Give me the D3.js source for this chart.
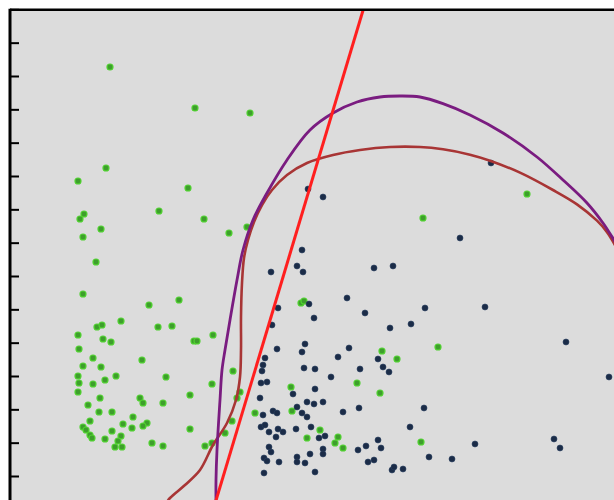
<!DOCTYPE html>
<html>
<head>
<meta charset="utf-8">
<script src="https://cdn.jsdelivr.net/npm/d3@7"></script>
<style>
  html, body { margin: 0; padding: 0; background: #ffffff; }
  svg { display: block; }
</style>
</head>
<body>
<svg id="chart" width="614" height="500"></svg>
<script>
// Class A samples (green), [feature1, feature2]
const classA = [
  [3.00,12.27],[5.55,11.04],[7.20,10.89],[2.88,9.24],[2.04,8.85],[5.34,8.64],[4.47,7.95],
  [2.22,7.86],[2.10,7.71],[5.82,7.71],[2.73,7.41],[2.19,7.17],[6.57,7.29],[7.11,7.47],
  [2.58,6.42],[2.19,5.46],[4.17,5.13],[5.07,5.28],[3.33,4.65],[2.61,4.47],[2.76,4.53],
  [4.44,4.47],[4.86,4.50],[2.04,4.23],[2.79,4.11],[3.03,4.02],[5.52,4.05],[5.61,4.05],
  [6.09,4.23],[2.07,3.81],[3.96,3.48],[2.49,3.54],[2.19,3.30],[2.73,3.27],[3.18,3.00],
  [2.04,3.00],[2.07,2.79],[2.49,2.76],[2.85,2.88],[4.68,2.97],[6.06,2.76],[6.69,3.15],
  [5.40,2.43],[2.04,2.52],[2.70,2.34],[3.90,2.34],[3.99,2.19],[4.59,2.19],[2.34,2.13],
  [2.67,1.92],[3.06,1.92],[3.69,1.77],[6.90,2.52],[6.81,2.34],[5.40,1.41],[2.40,1.65],
  [2.19,1.47],[2.28,1.38],[3.39,1.56],[3.66,1.44],[4.11,1.59],[3.99,1.50],[3.06,1.35],
  [2.40,1.23],[2.46,1.14],[3.33,1.20],[2.85,1.11],[3.24,1.05],[3.15,0.87],[3.36,0.87],
  [4.26,0.99],[4.59,0.90],[6.66,1.65],[6.45,1.29],[5.85,0.90],[6.06,0.99],
  [8.73,5.19],[8.82,5.25],[8.43,2.67],[7.35,1.89],[8.46,1.95],[8.91,1.14],[9.30,1.38],
  [9.75,0.99],[9.84,1.17],[9.99,0.84],[11.16,3.75],[11.61,3.51],[10.41,2.79],[11.10,2.49],
  [12.84,3.87],[12.33,1.02],[15.51,8.46],[12.39,7.74]
];

// Class B samples (navy), [feature1, feature2]
const classB = [
  [8.94,8.61],[9.39,8.37],[14.43,9.39],[13.50,7.14],[8.76,6.78],[7.83,6.12],[8.61,6.30],
  [8.79,6.12],[10.92,6.24],[11.49,6.30],[8.04,5.04],[8.97,5.16],[9.12,4.74],[7.86,4.53],
  [10.11,5.34],[10.65,4.89],[11.40,4.44],[12.03,4.56],[12.45,5.04],[14.25,5.07],[16.68,4.02],
  [17.97,2.97],[8.01,3.81],[8.85,3.96],[8.76,3.72],[10.17,3.84],[9.84,3.57],[7.65,3.54],
  [7.59,3.33],[7.56,3.15],[8.82,3.24],[9.15,3.21],[10.50,3.21],[9.63,2.97],[11.04,3.51],
  [11.19,3.27],[11.37,3.12],[7.53,2.79],[7.71,2.82],[9.15,2.61],[7.50,2.34],[8.49,2.46],
  [8.91,2.22],[9.12,2.16],[9.39,2.22],[8.61,2.07],[7.89,1.95],[8.01,1.89],[8.76,1.89],
  [8.91,1.77],[9.99,1.92],[10.47,2.04],[12.42,2.04],[7.59,1.83],[7.53,1.47],[7.65,1.53],
  [7.77,1.32],[8.04,1.41],[8.19,1.32],[8.58,1.41],[9.03,1.47],[7.98,1.17],[9.27,1.14],
  [9.45,1.20],[12.00,1.47],[7.77,0.87],[7.83,0.72],[7.62,0.54],[7.71,0.45],[8.07,0.42],
  [8.61,0.57],[8.61,0.42],[8.85,0.39],[9.00,0.66],[9.39,0.81],[9.39,0.66],[9.15,0.12],
  [7.62,0.09],[10.44,0.78],[10.68,0.90],[11.04,1.08],[11.13,0.84],[10.74,0.42],[10.92,0.48],
  [11.46,0.18],[11.52,0.27],[11.79,0.21],[13.95,0.96],[16.32,1.11],[16.50,0.84],[12.57,0.57],
  [13.26,0.51]
];

// Linear decision boundary (two points on the line)
const linearBoundary = [[6.10,-1.0],[10.90,15.0]];

// Polynomial-kernel decision boundary
const polyBoundary = [
  [6.18,-0.87],[6.18,-0.12],[6.21,0.78],[6.30,2.28],[6.36,3.18],[6.45,3.78],[6.60,4.68],
  [6.81,5.88],[6.99,6.78],[7.29,7.68],[7.71,8.49],[8.31,9.48],[9.00,10.38],[9.69,10.89],
  [10.41,11.22],[11.10,11.37],[11.70,11.40],[12.30,11.37],[12.99,11.17],[13.80,10.83],
  [14.79,10.29],[15.81,9.57],[16.59,8.88],[17.31,8.19],[17.79,7.59],[18.12,7.08],[18.45,6.54]
];

// RBF-kernel decision boundary
const rbfBoundary = [
  [4.65,-0.87],[4.80,-0.66],[5.25,-0.27],[5.70,0.18],[6.09,0.93],[6.51,1.59],[6.78,2.28],
  [6.90,2.97],[6.93,3.78],[6.93,4.77],[6.96,5.79],[7.02,6.54],[7.14,7.08],[7.32,7.62],
  [7.56,8.13],[7.86,8.58],[8.31,9.03],[8.91,9.39],[9.69,9.63],[10.50,9.78],[11.40,9.87],
  [12.30,9.87],[12.99,9.80],[13.80,9.64],[14.40,9.46],[15.30,9.10],[16.29,8.58],
  [17.01,8.15],[17.61,7.66],[17.90,7.33],[18.12,6.98],[18.36,6.50]
];

// Vertical axis tick values
const yTicks = d3.range(0, 15);

const svg = d3.select("#chart");
const W = 614, H = 500;
const plotLeft = 10, plotTop = 9.33;

const x = d3.scaleLinear().domain([0, 18.12]).range([plotLeft, W]);
const y = d3.scaleLinear().domain([-0.72, 14]).range([H, plotTop]);

svg.append("defs").append("clipPath").attr("id", "plot-clip")
  .append("rect").attr("x", plotLeft).attr("y", plotTop)
  .attr("width", W - plotLeft + 10).attr("height", H - plotTop + 10);

// plot background
svg.append("rect")
  .attr("x", plotLeft).attr("y", plotTop)
  .attr("width", W - plotLeft + 10).attr("height", H - plotTop + 10)
  .attr("fill", "#dcdcdc");

const plot = svg.append("g").attr("clip-path", "url(#plot-clip)");

// samples
plot.append("g").selectAll("circle.a").data(classA).join("circle")
  .attr("class", "a")
  .attr("cx", d => x(d[0])).attr("cy", d => y(d[1]))
  .attr("r", 3)
  .attr("fill", "#3e9e2c")
  .attr("stroke", "#4fd02f")
  .attr("stroke-width", 1.2);

plot.append("g").selectAll("circle.b").data(classB).join("circle")
  .attr("class", "b")
  .attr("cx", d => x(d[0])).attr("cy", d => y(d[1]))
  .attr("r", 3)
  .attr("fill", "#1b2c48")
  .attr("stroke", "#2a3f60")
  .attr("stroke-width", 0.6);

// decision boundaries
const smooth = d3.line().x(d => x(d[0])).y(d => y(d[1])).curve(d3.curveCatmullRom.alpha(0.5));
const straight = d3.line().x(d => x(d[0])).y(d => y(d[1]));

plot.append("path").datum(rbfBoundary)
  .attr("d", smooth).attr("fill", "none")
  .attr("stroke", "#a83535").attr("stroke-width", 2.6);

plot.append("path").datum(polyBoundary)
  .attr("d", smooth).attr("fill", "none")
  .attr("stroke", "#7a1c80").attr("stroke-width", 2.8);

plot.append("path").datum(linearBoundary)
  .attr("d", straight).attr("fill", "none")
  .attr("stroke", "#ff1f1f").attr("stroke-width", 3);

// frame: top and left edges
svg.append("line")
  .attr("x1", plotLeft).attr("x2", W + 5).attr("y1", plotTop + 0.5).attr("y2", plotTop + 0.5)
  .attr("stroke", "#000").attr("stroke-width", 2.5);
svg.append("line")
  .attr("x1", plotLeft).attr("x2", plotLeft).attr("y1", plotTop - 0.7).attr("y2", H + 5)
  .attr("stroke", "#000").attr("stroke-width", 3);

// inward ticks on the left axis
const axis = d3.axisRight(y).tickValues(yTicks).tickSize(9).tickFormat("");
const gAxis = svg.append("g").attr("transform", `translate(${plotLeft},0)`).call(axis);
gAxis.select(".domain").remove();
gAxis.selectAll(".tick line").attr("stroke", "#000").attr("stroke-width", 2);
</script>
</body>
</html>
